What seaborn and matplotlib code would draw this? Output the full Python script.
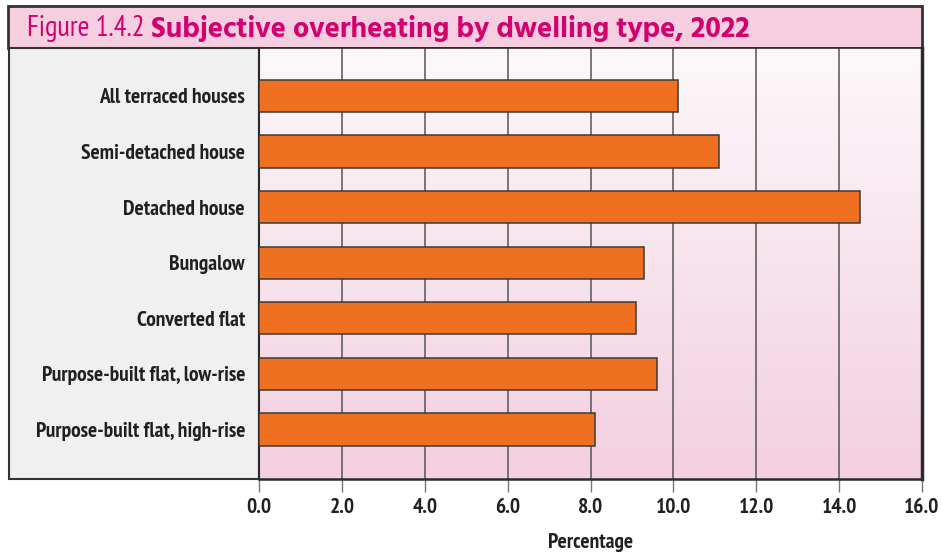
import matplotlib
matplotlib.use("Agg")
import matplotlib.pyplot as plt
import seaborn as sns
import numpy as np
import pandas as pd
from matplotlib import font_manager
from matplotlib.patches import Rectangle
from matplotlib.colors import LinearSegmentedColormap

categories = ["All terraced houses", "Semi-detached house", "Detached house", "Bungalow",
              "Converted flat", "Purpose-built flat, low-rise", "Purpose-built flat, high-rise"]
values = [10.1, 11.1, 14.5, 9.3, 9.1, 9.6, 8.1]
xticks = [0, 2, 4, 6, 8, 10, 12, 14, 16]
xtick_labels = ["0.0", "2.0", "4.0", "6.0", "8.0", "10.0", "12.0", "14.0", "16.0"]
title_prefix = "Figure 1.4.2 "
title_main = "Subjective overheating by dwelling type, 2022"
xlabel = "Percentage"

sns.set_theme(style="white")

installed = {f.name for f in font_manager.fontManager.ttflist}

def pick(prefs):
    for p in prefs:
        if p in installed:
            return p
    return "DejaVu Sans"

COND = pick(["PT Sans Narrow", "Fira Sans Condensed", "Roboto Condensed", "Open Sans Condensed",
             "Asap Condensed", "IBM Plex Sans Condensed", "Liberation Sans Narrow"])
TITLEF = pick(["Hind", "Fira Sans", "PT Sans", "Source Sans 3", "Open Sans"])
plt.rcParams["font.family"] = [COND, "DejaVu Sans"]

W, H = 942, 553
fig = plt.figure(figsize=(W / 100, H / 100), dpi=100)
fig.patch.set_facecolor("white")

def fx(px):
    return px / W

def fy(py):
    return 1 - py / H

dark = "#231f20"
magenta = "#d4006e"
FS = 15.5

# title box
fig.patches.append(Rectangle((fx(8), fy(48)), fx(922) - fx(8), fy(6) - fy(48),
                             transform=fig.transFigure, facecolor="#f5cee0",
                             edgecolor="#333333", linewidth=2, zorder=-5))
# left label panel
fig.patches.append(Rectangle((fx(9), fy(479)), fx(259) - fx(9), fy(48) - fy(479),
                             transform=fig.transFigure, facecolor="#f0f0f0",
                             edgecolor="#333333", linewidth=1.5, zorder=-5))

tsize = 17.5
t1 = fig.text(fx(27), fy(29), title_prefix, color=magenta, fontsize=tsize,
              va="center", ha="left", family=[COND, "DejaVu Sans"])
fig.canvas.draw()
bb = t1.get_window_extent()
t2 = fig.text(bb.x1 / W, fy(29), title_main, color=magenta, fontsize=tsize, fontweight="bold",
              va="center", ha="left", family=[TITLEF, "DejaVu Sans"])
fig.canvas.draw()
r = fig.canvas.get_renderer()
end = t2.get_window_extent(r).x1
scale = (750 - 27) / (end - 27)
t1.set_fontsize(tsize * scale)
fig.canvas.draw()
t2.set_fontsize(tsize * scale)
t2.set_x(t1.get_window_extent(r).x1 / W)

ax = fig.add_axes([fx(259), fy(479), fx(922) - fx(259), fy(48) - fy(479)])
ax.set_zorder(2)

# gradient background
cmap = LinearSegmentedColormap.from_list("pk", ["#fcf8fa", "#f3cfe0"])
grad = np.linspace(0, 1, 256).reshape(-1, 1)
ax.imshow(grad, extent=[0, 16, 6.89, -0.86], aspect="auto", cmap=cmap, zorder=0)

df = pd.DataFrame({"category": categories, "value": values})
sns.barplot(data=df, y="category", x="value", orient="h", color="#f07022",
            saturation=1, edgecolor="#3a3a3a", linewidth=1.1, width=0.58, ax=ax, zorder=3)

ax.set_xlim(0, 16)
ax.set_ylim(6.89, -0.86)
ax.set_xticks(xticks)
ax.set_xticklabels(xtick_labels, fontweight="bold", color=dark, fontsize=FS)
ax.set_yticks(range(len(categories)))
ax.set_yticklabels(categories, fontweight="bold", color=dark, fontsize=FS)
ax.tick_params(axis="y", length=0, pad=10)
ax.tick_params(axis="x", bottom=True, length=9, width=1, color="#777777", pad=5, direction="out")

for x in xticks[1:-1]:
    ax.axvline(x, color="#555555", linewidth=1.1, zorder=1)

ax.set_xlabel(xlabel, fontweight="bold", color=dark, fontsize=FS, labelpad=11)
ax.set_ylabel("")
for side, sp in ax.spines.items():
    sp.set_visible(True)
    sp.set_color("#2a2a2a")
ax.spines["right"].set_linewidth(2.5)
ax.spines["bottom"].set_linewidth(1.8)
ax.spines["top"].set_linewidth(1.2)
ax.spines["left"].set_linewidth(1.5)

fig.savefig("out.png", dpi=100)
